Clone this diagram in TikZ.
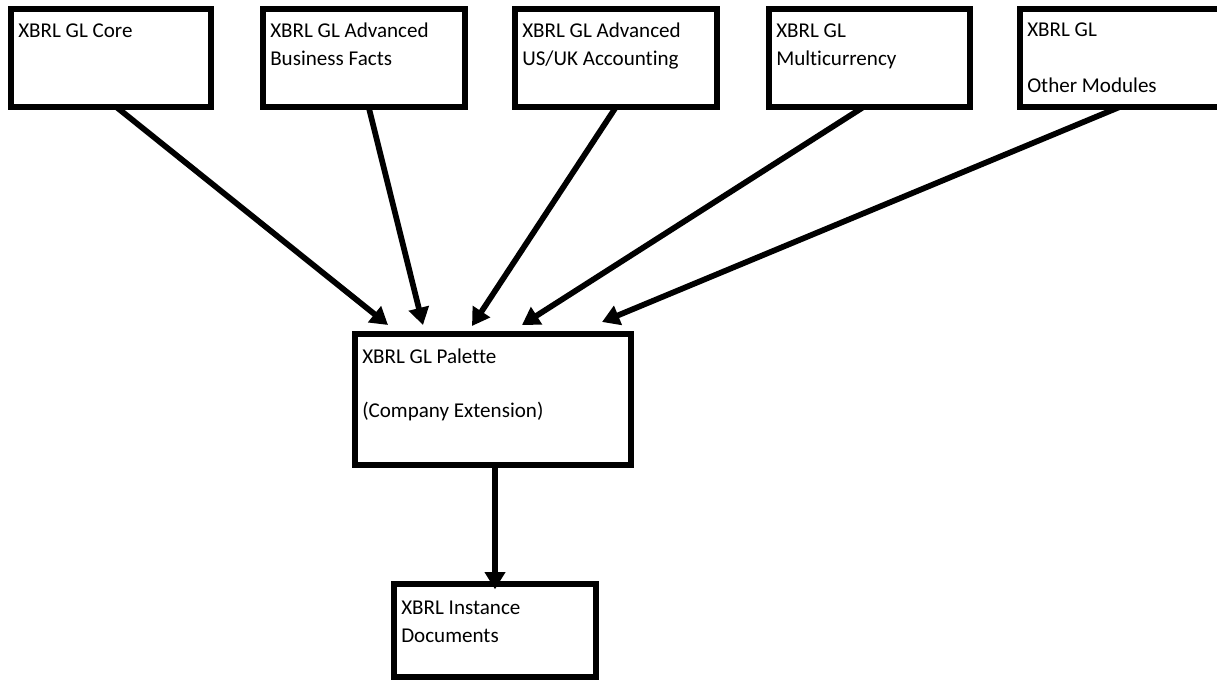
\documentclass[tikz,border=0pt]{standalone}
\usepackage{fontspec}
\setmainfont{Carlito}[Ligatures=NoCommon]
\usepackage{tikz}
\usetikzlibrary{arrows.meta,positioning,calc}
\tikzset{mbox/.style={draw=black, line width=3.9pt, outer sep=0pt, inner sep=0pt, anchor=north west, minimum width=151.5pt, minimum height=73.5pt},
         lbl/.style={font=\fontsize{15.8}{21}\selectfont, align=left, inner sep=0pt, anchor=base west},
         arr/.style={-{Triangle[length=13pt, width=15pt]}, line width=4.3pt, black}}

\begin{document}
\begin{tikzpicture}[x=0.75pt,y=-0.75pt]
\useasboundingbox (0,0) rectangle (1217,680);
% module boxes, top row
\node[mbox, minimum width=150pt] (core) at (11,9) {};
\node[mbox] (abf) at (263,9) {};
\node[mbox] (usuk) at (515,9) {};
\node[mbox, minimum width=150.75pt] (multi) at (769,9) {};
\node[mbox] (other) at (1020,9) {};
% labels sit on the baseline of their last line
\node[lbl] (core-t) at ([shift={(7,29)}]core.north west) {XBRL GL Core};
\node[lbl] (abf-t) at ([shift={(7,57)}]abf.north west) {XBRL GL Advanced\\Business Facts};
\node[lbl] (usuk-t) at ([shift={(7,57)}]usuk.north west) {XBRL GL Advanced\\US/UK Accounting};
\node[lbl] (multi-t) at ([shift={(7,57)}]multi.north west) {XBRL GL\\Multicurrency};
\node[lbl] (other-t) at ([shift={(7,84)}]other.north west) {XBRL GL\\[21pt]Other Modules};
% palette and instances
\node[mbox, minimum width=207pt, minimum height=98.25pt] (pal) at (355,334) {};
\node[lbl] (pal-t) at ([shift={(7,84)}]pal.north west) {XBRL GL Palette\\[19.5pt](Company Extension)};
\node[mbox, minimum width=151.5pt, minimum height=69.75pt] (inst) at (394,584) {};
\node[lbl] (inst-t) at ([shift={(7,58)}]inst.north west) {XBRL Instance\\Documents};
% connectors
\draw[arr] ([xshift=4]core.south) -- ([shift={(-105,-9)}]pal.north);
\draw[arr] ([xshift=3.5]abf.south) -- ([shift={(-70,-9)}]pal.north);
\draw[arr] (usuk.south) -- ([shift={(-21,-8)}]pal.north);
\draw[arr] ([xshift=-4.5]multi.south) -- ([shift={(29,-9)}]pal.north);
\draw[arr] ([xshift=-1]other.south) -- ([shift={(109,-12)}]pal.north);
\draw[arr] (inst.north |- pal.south) -- ([yshift=-4]inst.north);
\end{tikzpicture}
\end{document}
